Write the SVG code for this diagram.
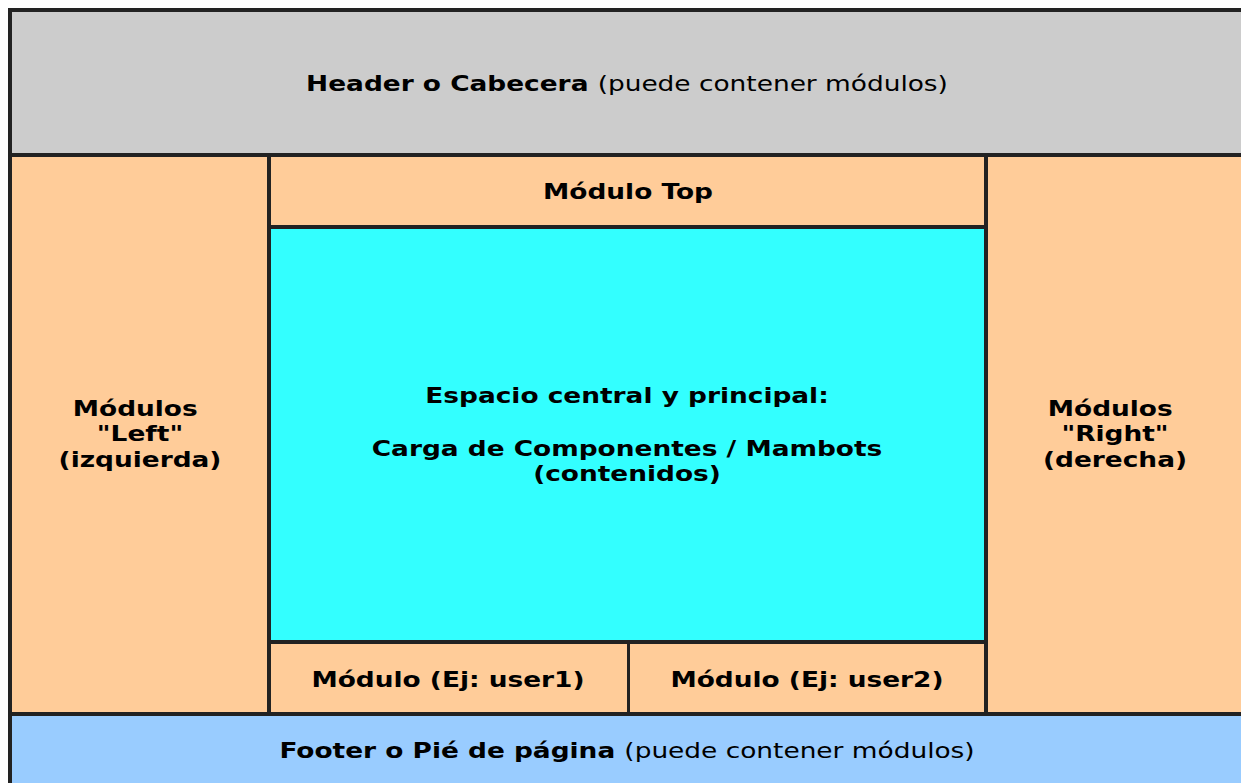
<svg xmlns="http://www.w3.org/2000/svg" width="1241" height="783" viewBox="0 0 1241 783">
<style>
.b{font-family:"DejaVu Sans",Verdana,sans-serif;font-weight:bold;font-size:22px;fill:#000;text-anchor:middle}
.r{font-weight:normal}
.hd{fill:#cccccc}.pe{fill:#ffcc99}.cy{fill:#33ffff}.ft{fill:#99ccff}
</style>
<rect x="0" y="0" width="1241" height="783" fill="#ffffff"/>
<rect x="8" y="8" width="1233" height="775" fill="#222222"/>
<g id="header"><rect class="hd" x="12" y="12" width="1229" height="141"/>
<text class="b" transform="matrix(1.2 0 0 1 627 0)" x="0" y="91">Header o Cabecera <tspan class="r">(puede contener módulos)</tspan></text></g>
<g id="left"><rect class="pe" x="12" y="157" width="255" height="555"/>
<text class="b" transform="matrix(1.2 0 0 1 140 0)"><tspan x="-4" y="416">Módulos</tspan><tspan x="0" y="441.5">"Left"</tspan><tspan x="0" y="467">(izquierda)</tspan></text></g>
<g id="top"><rect class="pe" x="271" y="157" width="713" height="68"/>
<text class="b" transform="matrix(1.2 0 0 1 628 0)" x="0" y="199">Módulo Top</text></g>
<g id="main"><rect class="cy" x="271" y="229" width="713" height="411"/>
<text class="b" transform="matrix(1.2 0 0 1 627 0)"><tspan x="0" y="403">Espacio central y principal:</tspan><tspan x="0" y="456">Carga de Componentes / Mambots</tspan><tspan x="0" y="481.5">(contenidos)</tspan></text></g>
<g id="user1"><rect class="pe" x="271" y="644" width="356" height="68"/>
<text class="b" transform="matrix(1.2 0 0 1 448 0)" x="0" y="687">Módulo (Ej: user1)</text></g>
<g id="user2"><rect class="pe" x="630" y="644" width="354" height="68"/>
<text class="b" transform="matrix(1.2 0 0 1 807 0)" x="0" y="687">Módulo (Ej: user2)</text></g>
<g id="right"><rect class="pe" x="988" y="157" width="253" height="555"/>
<text class="b" transform="matrix(1.2 0 0 1 1115 0)"><tspan x="-4" y="416">Módulos</tspan><tspan x="0" y="441.5">"Right"</tspan><tspan x="0" y="467">(derecha)</tspan></text></g>
<g id="footer"><rect class="ft" x="12" y="716" width="1229" height="67"/>
<text class="b" transform="matrix(1.2 0 0 1 627 0)" x="0" y="758">Footer o Pié de página <tspan class="r">(puede contener módulos)</tspan></text></g>
<g id="connectors"></g>
</svg>
